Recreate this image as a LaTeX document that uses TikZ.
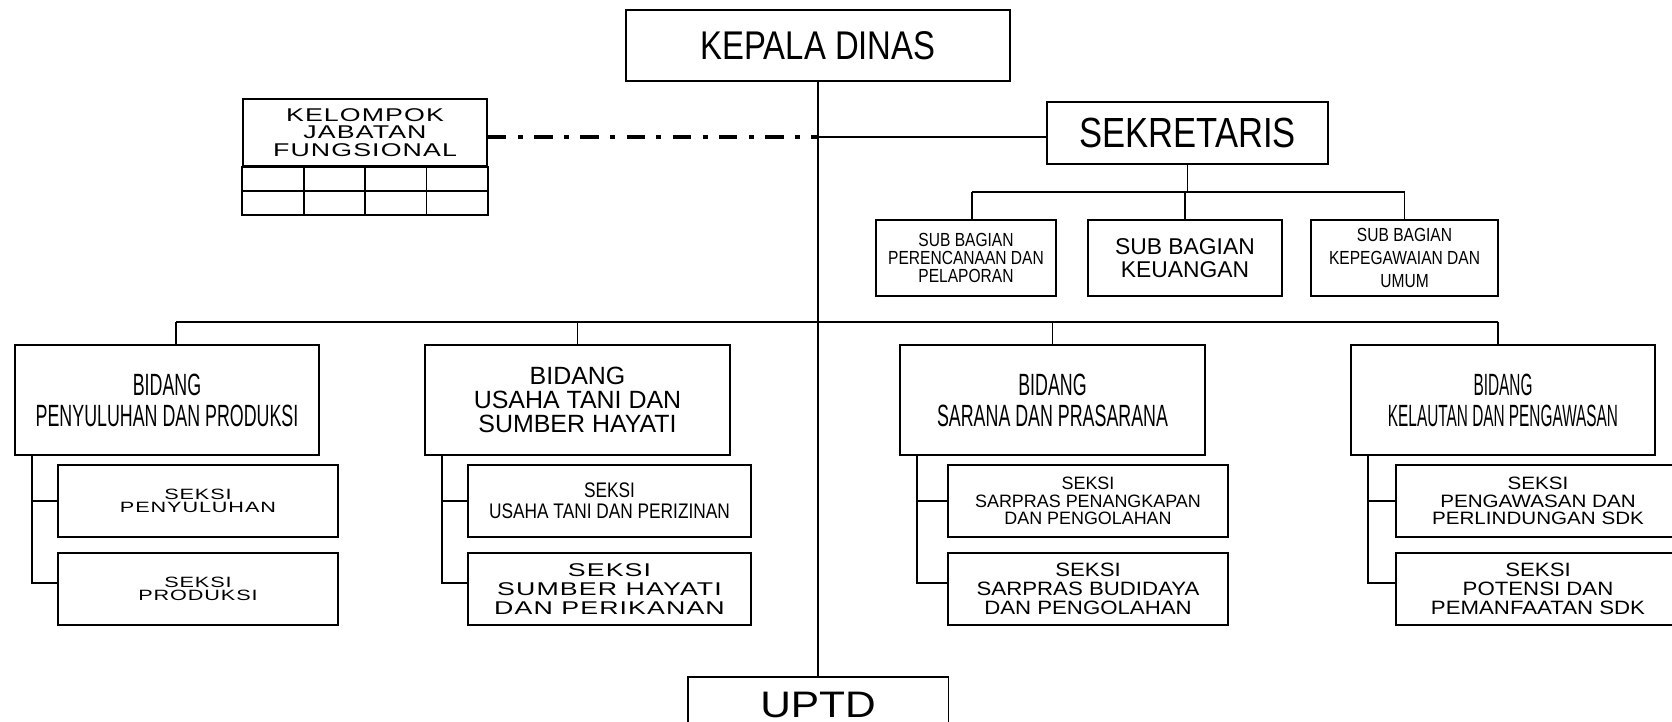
\documentclass[tikz,border=0pt]{standalone}
\usepackage{fontspec}
\setmainfont{Liberation Sans}
\newfontfamily\narrowfont[FakeStretch=0.82]{Liberation Sans}
\newfontfamily\condfont[FakeStretch=0.58]{Liberation Sans}
\newfontfamily\xcondfont[FakeStretch=0.5]{Liberation Sans}
\newfontfamily\widefont[FakeStretch=1.15]{Liberation Sans}
\newfontfamily\xwidefont[FakeStretch=1.45,LetterSpace=6]{Liberation Sans}
\usetikzlibrary{positioning, calc}
\newcommand{\fsz}[2]{\fontsize{#1}{#2}\selectfont}

\begin{document}
\begin{tikzpicture}[x=0.02cm, y=-0.02cm,
    orgbox/.style={draw, line width=1.1pt, align=center, inner sep=0pt},
    link/.style={line width=1.1pt},
    bar/.style={line width=1.5pt},
    jfline/.style={line width=2.3pt, dash pattern=on 10.5pt off 6.5pt on 2.8pt off 6.5pt}]
  \useasboundingbox (0,0) rectangle (1672,722);

  \node[orgbox, minimum width=7.68cm, minimum height=1.42cm, font={\narrowfont\fsz{22.8}{24}}] (kepala) at (818,45.5) {KEPALA DINAS};
  \node[orgbox, minimum width=5.62cm, minimum height=1.24cm, font={\narrowfont\fsz{24}{25}}] (sekretaris) at (1187.5,133) {SEKRETARIS};
  \node[orgbox, minimum width=4.88cm, minimum height=1.34cm, font={\xwidefont\fsz{10.5}{9.9}}] (kelompok) at (365,132.5) {KELOMPOK\\JABATAN\\FUNGSIONAL};
  \draw[link] (kelompok.south west) rectangle ($(kelompok.south east)+(0,48)$);
  \draw[link] ($(kelompok.south west)+(0,24)$) -- ($(kelompok.south east)+(0,24)$);
  \foreach \i in {1,2,3}
    \draw[link] ($(kelompok.south west)!\i/4!(kelompok.south east)$) -- ++(0,48);

  \node[orgbox, minimum width=3.6cm, minimum height=1.52cm, font={\narrowfont\fsz{10.8}{10.3}}] (sbp) at (966,258) {SUB BAGIAN\\PERENCANAAN DAN\\PELAPORAN};
  \node[orgbox, minimum width=3.88cm, minimum height=1.52cm, font={\fsz{13}{12.7}}] (sbk) at (1185,258) {SUB BAGIAN\\KEUANGAN};
  \node[orgbox, minimum width=3.74cm, minimum height=1.52cm, font={\narrowfont\fsz{10.8}{13}}] (sbu) at (1404.5,258) {SUB BAGIAN\\KEPEGAWAIAN DAN\\UMUM};

  \node[orgbox, minimum width=6.08cm, minimum height=2.2cm, font={\condfont\fsz{17.5}{17.6}}] (bpp) at (167,400) {BIDANG\\PENYULUHAN DAN PRODUKSI};
  \node[orgbox, minimum width=6.1cm, minimum height=2.2cm, font={\fsz{14.2}{13.7}}] (but) at (577.5,400) {BIDANG\\USAHA TANI DAN\\SUMBER HAYATI};
  \node[orgbox, minimum width=6.1cm, minimum height=2.2cm, font={\condfont\fsz{17.5}{17.6}}] (bsp) at (1052.5,400) {BIDANG\\SARANA DAN PRASARANA};
  \node[orgbox, minimum width=6.08cm, minimum height=2.2cm, font={\xcondfont\fsz{17.5}{17.6}}] (bkp) at (1503,400) {BIDANG\\KELAUTAN DAN PENGAWASAN};

  \node[orgbox, minimum width=5.6cm, minimum height=1.44cm, font={\xwidefont\fsz{8.5}{7.4}}] (s11) at (198,501) {SEKSI\\PENYULUHAN};
  \node[orgbox, minimum width=5.6cm, minimum height=1.44cm, font={\xwidefont\fsz{8.5}{7.4}}, below=0.28cm of s11] (s12) {SEKSI\\PRODUKSI};
  \node[orgbox, minimum width=5.66cm, minimum height=1.44cm, font={\narrowfont\fsz{12}{11.8}}] (s21) at (609.5,501) {SEKSI\\USAHA TANI DAN PERIZINAN};
  \node[orgbox, minimum width=5.66cm, minimum height=1.44cm, font={\xwidefont\fsz{10.5}{10.9}}, below=0.28cm of s21] (s22) {SEKSI\\SUMBER HAYATI\\DAN PERIKANAN};
  \node[orgbox, minimum width=5.6cm, minimum height=1.44cm, font={\fsz{10.2}{10}}] (s31) at (1088,501) {SEKSI\\SARPRAS PENANGKAPAN\\DAN PENGOLAHAN};
  \node[orgbox, minimum width=5.6cm, minimum height=1.44cm, font={\widefont\fsz{11}{10.9}}, below=0.28cm of s31] (s32) {SEKSI\\SARPRAS BUDIDAYA\\DAN PENGOLAHAN};
  \node[orgbox, minimum width=5.68cm, minimum height=1.44cm, font={\widefont\fsz{10.2}{10}}] (s41) at (1538,501) {SEKSI\\PENGAWASAN DAN\\PERLINDUNGAN SDK};
  \node[orgbox, minimum width=5.68cm, minimum height=1.44cm, font={\widefont\fsz{11}{10.9}}, below=0.28cm of s41] (s42) {SEKSI\\POTENSI DAN\\PEMANFAATAN SDK};

  \node[orgbox, minimum width=5.22cm, minimum height=1.12cm, anchor=north, font={\widefont\fsz{21}{22}}] (uptd) at (818,676) {UPTD};

  \coordinate (jf) at ($(kepala.south)+(0,55.5)$);
  \coordinate (sb) at ($(sekretaris.south)+(0,27)$);
  \coordinate (bb) at ($(kepala.south)+(0,240)$);

  \draw[link] (kepala.south) -- (uptd.north);
  \draw[link] (jf) -- (sekretaris.west |- jf);
  \draw[jfline] (kelompok.east |- jf) -- (jf);

  \draw[link] (sekretaris.south) -- (sb);
  \draw[bar] ($(sbp.north |- sb)+(6,0)$) -- (sbu.north |- sb);
  \foreach \n/\dx in {sbp/6, sbk/0, sbu/0}
    \draw[link] ($(\n.north |- sb)+(\dx,0)$) -- ($(\n.north)+(\dx,0)$);

  \draw[link] ($(bpp.north |- bb)+(9,0)$) -- ($(bkp.north |- bb)+(-5,0)$);
  \foreach \n/\dx in {bpp/9, but/0, bsp/0, bkp/-5}
    \draw[link] ($(\n.north |- bb)+(\dx,0)$) -- ($(\n.north)+(\dx,0)$);

  \foreach \b/\c/\d in {bpp/s11/s12, but/s21/s22, bsp/s31/s32, bkp/s41/s42} {
    \draw[link] ($(\b.south west)+(18,0)$) |- (\c.west);
    \draw[link] ($(\b.south west)+(18,0)$) |- ($(\d.west)+(0,-6)$);
  }
\end{tikzpicture}
\end{document}
